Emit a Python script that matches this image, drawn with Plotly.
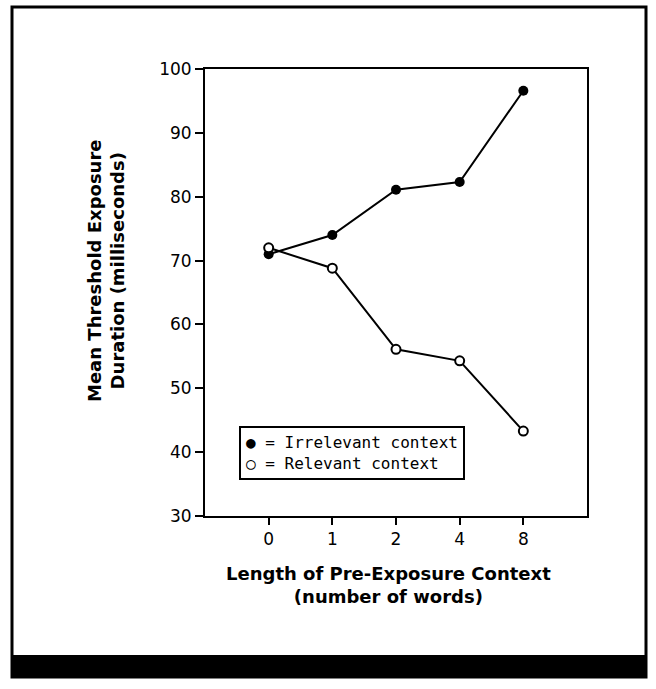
import plotly.graph_objects as go

categories = ["0", "1", "2", "4", "8"]
irrelevant = [71.0, 74.0, 81.1, 82.3, 96.6]
relevant = [72.0, 68.8, 56.1, 54.3, 43.3]
y_ticks = [30, 40, 50, 60, 70, 80, 90, 100]

W, H = 656, 689
L, R, T, B = 205, 69, 69, 173
pw, ph = W - L - R, H - T - B

def px(x):
    return (x - L) / pw

def py(y):
    return (H - B - y) / ph

xi = list(range(len(categories)))

fig = go.Figure()
fig.add_trace(go.Scatter(x=xi, y=irrelevant, mode="lines+markers",
                         line=dict(color="black", width=2),
                         marker=dict(symbol="circle", size=10, color="black"),
                         showlegend=False))
fig.add_trace(go.Scatter(x=xi, y=relevant, mode="lines+markers",
                         line=dict(color="black", width=2),
                         marker=dict(symbol="circle", size=9, color="white",
                                     line=dict(color="black", width=2)),
                         showlegend=False))

fig.update_layout(
    width=W, height=H,
    margin=dict(l=L, r=R, t=T, b=B, pad=0),
    paper_bgcolor="white", plot_bgcolor="white",
    font=dict(family="DejaVu Sans", color="black", size=17),
    xaxis=dict(range=[-1, 5], tickmode="array", tickvals=xi, ticktext=categories,
               showline=True, linecolor="black", linewidth=2, mirror=True,
               ticks="outside", ticklen=7, tickwidth=2, tickcolor="black",
               showgrid=False, zeroline=False, tickfont=dict(size=17)),
    yaxis=dict(range=[30, 100], tickmode="array", tickvals=y_ticks,
               showline=True, linecolor="black", linewidth=2, mirror=True,
               ticks="outside", ticklen=8, tickwidth=2, tickcolor="black",
               showgrid=False, zeroline=False, tickfont=dict(size=17)),
)

# outer frame and bottom black band
fig.add_shape(type="rect", xref="paper", yref="paper",
              x0=px(12), x1=px(646), y0=py(677), y1=py(7),
              line=dict(color="black", width=3), layer="below")
fig.add_shape(type="rect", xref="paper", yref="paper",
              x0=px(12), x1=px(646), y0=py(677), y1=py(655),
              line=dict(color="black", width=0), fillcolor="black")

# axis titles
fig.add_annotation(xref="paper", yref="paper", x=px(106), y=py(270),
                   text="<b>Mean Threshold Exposure<br>Duration (milliseconds)</b>",
                   textangle=-90, showarrow=False,
                   font=dict(family="DejaVu Sans", size=18, color="black"),
                   xanchor="center", yanchor="middle")
fig.add_annotation(xref="paper", yref="paper", x=px(388), y=py(585),
                   text="<b>Length of Pre-Exposure Context<br>(number of words)</b>",
                   showarrow=False,
                   font=dict(family="DejaVu Sans", size=18, color="black"),
                   xanchor="center", yanchor="middle")

# legend box
fig.add_annotation(xref="paper", yref="paper", x=px(352), y=py(453),
                   text="● = Irrelevant context<br>○ = Relevant context",
                   showarrow=False, align="left",
                   font=dict(family="DejaVu Sans Mono", size=16, color="black"),
                   bordercolor="black", borderwidth=2, borderpad=5, bgcolor="white",
                   xanchor="center", yanchor="middle")

fig.write_html("out.html")
